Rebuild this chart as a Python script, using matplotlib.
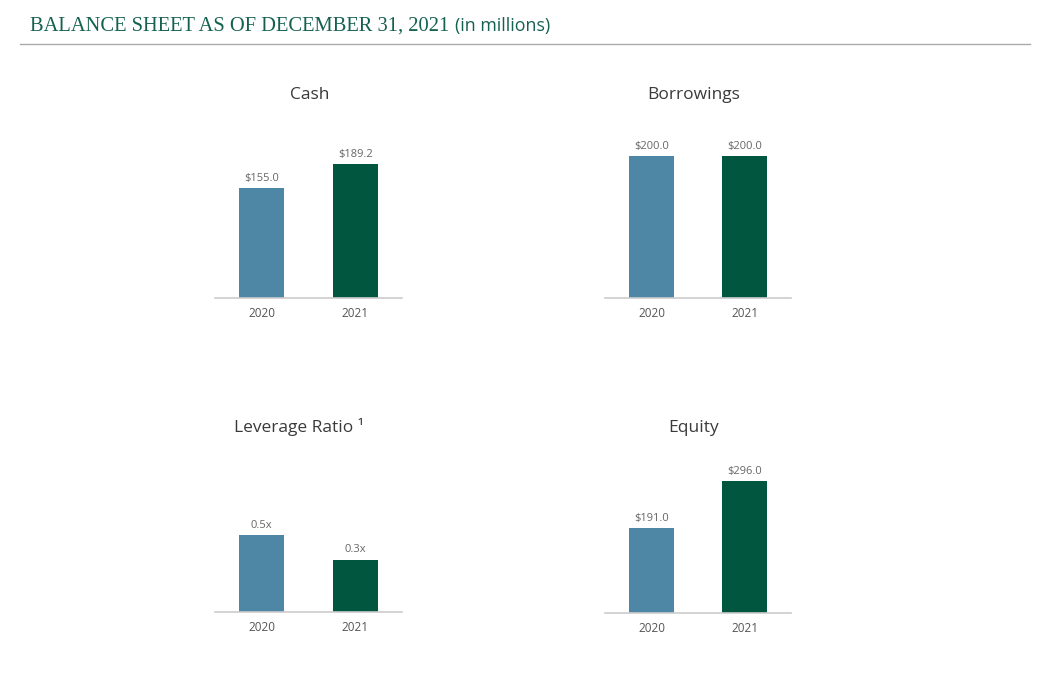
import matplotlib.pyplot as plt

# data
years = ['2020', '2021']
cash = [155.0, 189.2]
borrowings = [200.0, 200.0]
leverage = [0.5, 0.34]
equity = [191.0, 296.0]

W, H = 1039, 674
BLUE = '#4e87a6'
GREEN = '#00563f'
TITLE_GREEN = '#14614f'

plt.rcParams['font.family'] = ['Open Sans', 'DejaVu Sans']

fig = plt.figure(figsize=(W / 100, H / 100), dpi=100)


def px_axes(x0, x1, ybottom, height):
    return fig.add_axes([x0 / W, 1 - ybottom / H, (x1 - x0) / W, height / H])


def panel(ax, values, labels, ymax):
    ax.bar(range(len(values)), values, width=0.48, color=[BLUE, GREEN])
    ax.set_xlim(-0.5, 1.5)
    ax.set_ylim(0, ymax)
    ax.set_xticks(range(len(values)))
    ax.set_xticklabels(years, fontsize=8.5, color='#555555')
    ax.tick_params(axis='x', length=0, pad=6.5)
    ax.set_yticks([])
    for s in ['left', 'right', 'top']:
        ax.spines[s].set_visible(False)
    ax.spines['bottom'].set_color('#cccccc')
    ax.spines['bottom'].set_linewidth(1.2)
    for i, v in enumerate(values):
        ax.annotate(labels[i], (i, v), xytext=(0, 3), textcoords='offset points',
                    ha='center', va='bottom', fontsize=8, color='#666666')


ax1 = px_axes(215, 402, 298, 170)
panel(ax1, cash, ['${:.1f}'.format(v) for v in cash], 170 / 0.71)
ax2 = px_axes(605, 791, 298, 170)
panel(ax2, borrowings, ['${:.1f}'.format(v) for v in borrowings], 170 / 0.71)
ax3 = px_axes(215, 402, 612, 170)
panel(ax3, leverage, ['{:.1f}x'.format(v) for v in leverage], 170 / 154)
ax4 = px_axes(605, 791, 613, 170)
panel(ax4, equity, ['${:.1f}'.format(v) for v in equity], 170 / 0.446)

# panel titles
for x, y, t in [(310, 99, 'Cash'), (694, 99, 'Borrowings'),
                (299, 432, 'Leverage Ratio \u00b9'), (694, 432, 'Equity')]:
    fig.text(x / W, 1 - y / H, t, ha='center', va='baseline', fontsize=12.5, color='#3a3a3a')

# header
t1 = fig.text(30 / W, 1 - 31 / H, 'BALANCE SHEET AS OF DECEMBER 31, 2021',
              family='Liberation Serif', fontsize=14.8, color=TITLE_GREEN, va='baseline')
fig.canvas.draw()
bb = t1.get_window_extent()
fig.text((bb.x1 + 6) / W, 1 - 31 / H, '(in millions)', fontsize=12.8, color=TITLE_GREEN, va='baseline')
fig.add_artist(plt.Line2D([20 / W, 1030 / W], [1 - 44 / H, 1 - 44 / H], color='#aaaaaa', lw=1))

fig.savefig('out.png', dpi=100)
